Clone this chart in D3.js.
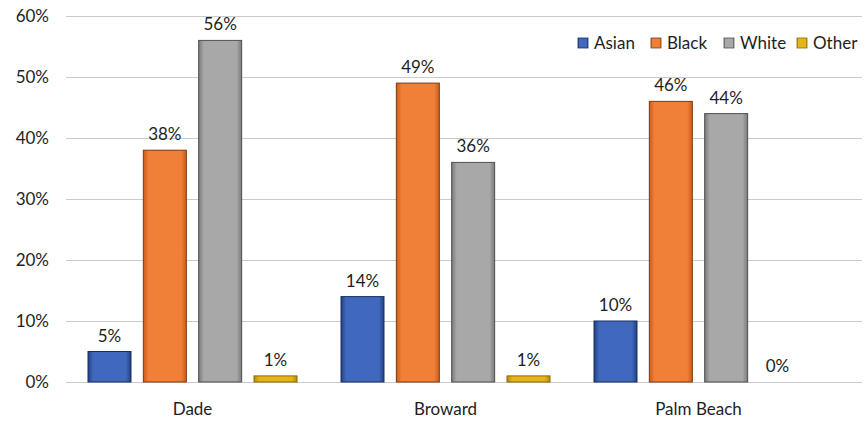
<!DOCTYPE html>
<html>
<head>
<meta charset="utf-8">
<script src="https://cdn.jsdelivr.net/npm/d3@7"></script>
<style>
  html, body { margin: 0; padding: 0; background: #fff; }
  svg { display: block; font-family: Lato, "Open Sans", sans-serif; }
</style>
</head>
<body>
<svg id="chart" width="866" height="421"></svg>
<script>
// Share of population by race, per county
const counties = ["Dade", "Broward", "Palm Beach"];
const races = ["Asian", "Black", "White", "Other"];
const asian = [5, 14, 10];
const black = [38, 49, 46];
const white = [56, 36, 44];
const other = [1, 1, 0];
const yTicks = [0, 10, 20, 30, 40, 50, 60];

const seriesValues = { Asian: asian, Black: black, White: white, Other: other };
const palette = {
  Asian:  { mid: "#4069bd", edge: "#22407f", stroke: "#1a2f66" },
  Black:  { mid: "#f07f37", edge: "#c95d1a", stroke: "#7d3a10" },
  White:  { mid: "#a8a8a8", edge: "#7a7a7a", stroke: "#505050" },
  Other:  { mid: "#e4b41a", edge: "#b08a0c", stroke: "#8a6a08" }
};

const svg = d3.select("#chart");
const plotLeft = 66, plotRight = 825, gridRight = 862, plotTop = 16, plotBottom = 382;
const fontSize = 17;

const x0 = d3.scaleBand().domain(counties).range([plotLeft, plotRight]).padding(0);
const x1 = d3.scaleBand().domain(races).range([22, 231]).paddingInner(0.223).paddingOuter(0);
const y = d3.scaleLinear().domain([0, 60]).range([plotBottom, plotTop]);

// gradients giving the bars shaded edges
const defs = svg.append("defs");
races.forEach(r => {
  const g = defs.append("linearGradient").attr("id", "grad-" + r)
    .attr("x1", "0%").attr("x2", "100%").attr("y1", "0%").attr("y2", "0%");
  g.append("stop").attr("offset", "0%").attr("stop-color", palette[r].edge);
  g.append("stop").attr("offset", "12%").attr("stop-color", palette[r].mid);
  g.append("stop").attr("offset", "88%").attr("stop-color", palette[r].mid);
  g.append("stop").attr("offset", "100%").attr("stop-color", palette[r].edge);
});

// horizontal gridlines
svg.append("g").selectAll("line").data(yTicks).join("line")
  .attr("x1", plotLeft).attr("x2", gridRight)
  .attr("y1", d => y(d) + 0.5).attr("y2", d => y(d) + 0.5)
  .attr("stroke", "#cacaca").attr("stroke-width", 1.2);

// y axis labels
const yAxis = d3.axisLeft(y).tickValues(yTicks).tickFormat(d => d + "%").tickSize(0).tickPadding(0);
const ya = svg.append("g").attr("transform", `translate(${plotLeft - 17},0)`).call(yAxis);
ya.select(".domain").remove();
ya.selectAll("text").attr("font-size", fontSize).attr("fill", "#1e1e1e").attr("font-family", "Lato, sans-serif");

// bars
const rows = [];
counties.forEach((c, i) => races.forEach(r => rows.push({ county: c, race: r, value: seriesValues[r][i] })));

const bars = svg.append("g");
bars.selectAll("rect").data(rows.filter(d => d.value > 0)).join("rect")
  .attr("x", d => x0(d.county) + x1(d.race))
  .attr("y", d => y(d.value))
  .attr("width", x1.bandwidth())
  .attr("height", d => y(0) - y(d.value))
  .attr("fill", d => `url(#grad-${d.race})`)
  .attr("stroke", d => palette[d.race].stroke)
  .attr("stroke-width", 1);

// value labels
svg.append("g").selectAll("text").data(rows).join("text")
  .attr("x", d => x0(d.county) + x1(d.race) + x1.bandwidth() / 2 - (d.value === 0 ? 4 : 0))
  .attr("y", d => y(d.value) - 10)
  .attr("text-anchor", "middle")
  .attr("font-size", fontSize).attr("fill", "#1e1e1e")
  .text(d => d.value + "%");

// category labels
const xAxis = d3.axisBottom(x0).tickSize(0).tickPadding(0);
const xa = svg.append("g").attr("transform", `translate(0,${plotBottom + 33})`).call(xAxis);
xa.select(".domain").remove();
xa.selectAll("text").attr("font-size", fontSize).attr("fill", "#1e1e1e").attr("dy", 0)
  .attr("font-family", "Lato, sans-serif");

// legend
const legendX = [578, 651, 724, 797];
const legend = svg.append("g").selectAll("g").data(races).join("g")
  .attr("transform", (d, i) => `translate(${legendX[i]},43)`);
legend.append("rect").attr("x", 0).attr("y", -5).attr("width", 10).attr("height", 10)
  .attr("fill", d => `url(#grad-${d})`).attr("stroke", d => palette[d].stroke).attr("stroke-width", 0.8);
legend.append("text").attr("x", 16).attr("y", 6)
  .attr("font-size", fontSize).attr("fill", "#1e1e1e").text(d => d);
</script>
</body>
</html>
